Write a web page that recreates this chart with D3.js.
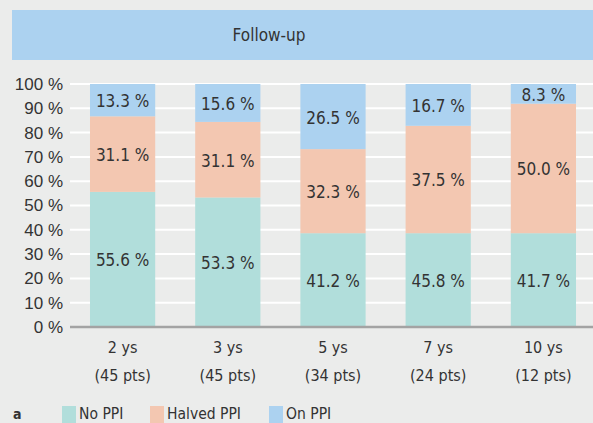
<!DOCTYPE html>
<html>
<head>
<meta charset="utf-8">
<script src="https://cdn.jsdelivr.net/npm/d3@7"></script>
<style>
body { margin: 0; background: #ebeceb; }
svg { display: block; font-family: "DejaVu Sans Condensed", sans-serif; }
</style>
</head>
<body>
<script>
// categories
let years = ['2 ys', '3 ys', '5 ys', '7 ys', '10 ys']
let patients = ['(45 pts)', '(45 pts)', '(34 pts)', '(24 pts)', '(12 pts)']

// segment heights as drawn in the figure (%)
let noPPI = 	[55.6, 53.3, 38.6, 38.6, 38.6]
let halvedPPI = [31.1, 31.1, 34.6, 44.2, 53.3]
let onPPI = 	[13.3, 15.6, 26.8, 17.2, 8.1]

// numbers printed on the segments
let noPPILabel = 	['55.6', '53.3', '41.2', '45.8', '41.7']
let halvedPPILabel = 	['31.1', '31.1', '32.3', '37.5', '50.0']
let onPPILabel = 	['13.3', '15.6', '26.5', '16.7', '8.3']

let yTicks = [0, 10, 20, 30, 40, 50, 60, 70, 80, 90, 100]
let seriesNames = ['No PPI', 'Halved PPI', 'On PPI']
let colors = ['#b1dedb', '#f3c7b1', '#acd2f0']

let W = 593, H = 423
let svg = d3.select('body').append('svg').attr('width', W).attr('height', H)

// title band
svg.append('rect').attr('x', 12).attr('y', 10).attr('width', W - 12).attr('height', 50)
	.style('fill', '#acd2f0')
svg.append('text').attr('x', 269).attr('y', 35).attr('text-anchor', 'middle')
	.attr('dominant-baseline', 'central').style('font-size', '17px').style('fill', '#333')
	.text('Follow-up')

let x = d3.scaleBand().domain(years).range([70, 596]).paddingInner(0.38).paddingOuter(0.19)
let y = d3.scaleLinear().domain([0, 100]).range([327, 84])

// grid
svg.selectAll('.grid').data(yTicks.slice(1)).enter().append('line')
	.attr('x1', 70).attr('x2', W)
	.attr('y1', d => y(d)).attr('y2', d => y(d))
	.style('stroke', '#fff').attr('stroke-width', 2)

// y axis labels
let yAxis = d3.axisLeft(y).tickValues(yTicks).tickSize(0).tickPadding(0).tickFormat(d => d + ' %')
let gy = svg.append('g').attr('transform', 'translate(63,0)').call(yAxis)
gy.select('.domain').remove()
gy.selectAll('text').style('font-size', '17px').style('fill', '#333').style('font-family', 'inherit')

// stacked bars
let rows = years.map((yr, i) => ({ year: yr, a: noPPI[i], b: halvedPPI[i], c: onPPI[i],
	la: noPPILabel[i], lb: halvedPPILabel[i], lc: onPPILabel[i] }))
let stack = d3.stack().keys(['a', 'b', 'c'])(rows)
let labelKeys = { a: 'la', b: 'lb', c: 'lc' }

stack.forEach((layer, k) => {
	let g = svg.append('g')
	g.selectAll('rect').data(layer).enter().append('rect')
		.attr('x', d => x(d.data.year)).attr('width', x.bandwidth())
		.attr('y', d => y(d[1])).attr('height', d => y(d[0]) - y(d[1]))
		.style('fill', colors[k])
	g.selectAll('text').data(layer).enter().append('text')
		.attr('x', d => x(d.data.year) + x.bandwidth() / 2)
		.attr('y', d => (y(d[0]) + y(d[1])) / 2 + 1)
		.attr('text-anchor', 'middle').attr('dominant-baseline', 'central')
		.style('font-size', '17px').style('fill', '#333')
		.text(d => d.data[labelKeys[layer.key]] + ' %')
})

// baseline
svg.append('line').attr('x1', 70).attr('x2', W).attr('y1', y(0)).attr('y2', y(0))
	.style('stroke', '#a3a3a3').attr('stroke-width', 2.5)

// x labels
let xl = svg.append('g')
years.forEach((yr, i) => {
	let cx = x(yr) + x.bandwidth() / 2
	xl.append('text').attr('x', cx).attr('y', 347).attr('text-anchor', 'middle')
		.attr('dominant-baseline', 'central').style('font-size', '16px').style('fill', '#333').text(yr)
	xl.append('text').attr('x', cx).attr('y', 375).attr('text-anchor', 'middle')
		.attr('dominant-baseline', 'central').style('font-size', '16px').style('fill', '#333').text(patients[i])
})

// legend
svg.append('text').attr('x', 13).attr('y', 414).attr('dominant-baseline', 'central')
	.style('font-size', '14px').style('font-weight', 'bold').style('fill', '#333').text('a')
let legX = [62, 150, 269]
seriesNames.forEach((n, i) => {
	svg.append('rect').attr('x', legX[i]).attr('y', 406).attr('width', 14).attr('height', 17)
		.style('fill', colors[i])
	svg.append('text').attr('x', legX[i] + 17).attr('y', 414).attr('dominant-baseline', 'central')
		.style('font-size', '15.5px').style('fill', '#333').text(n)
})
</script>
</body>
</html>
